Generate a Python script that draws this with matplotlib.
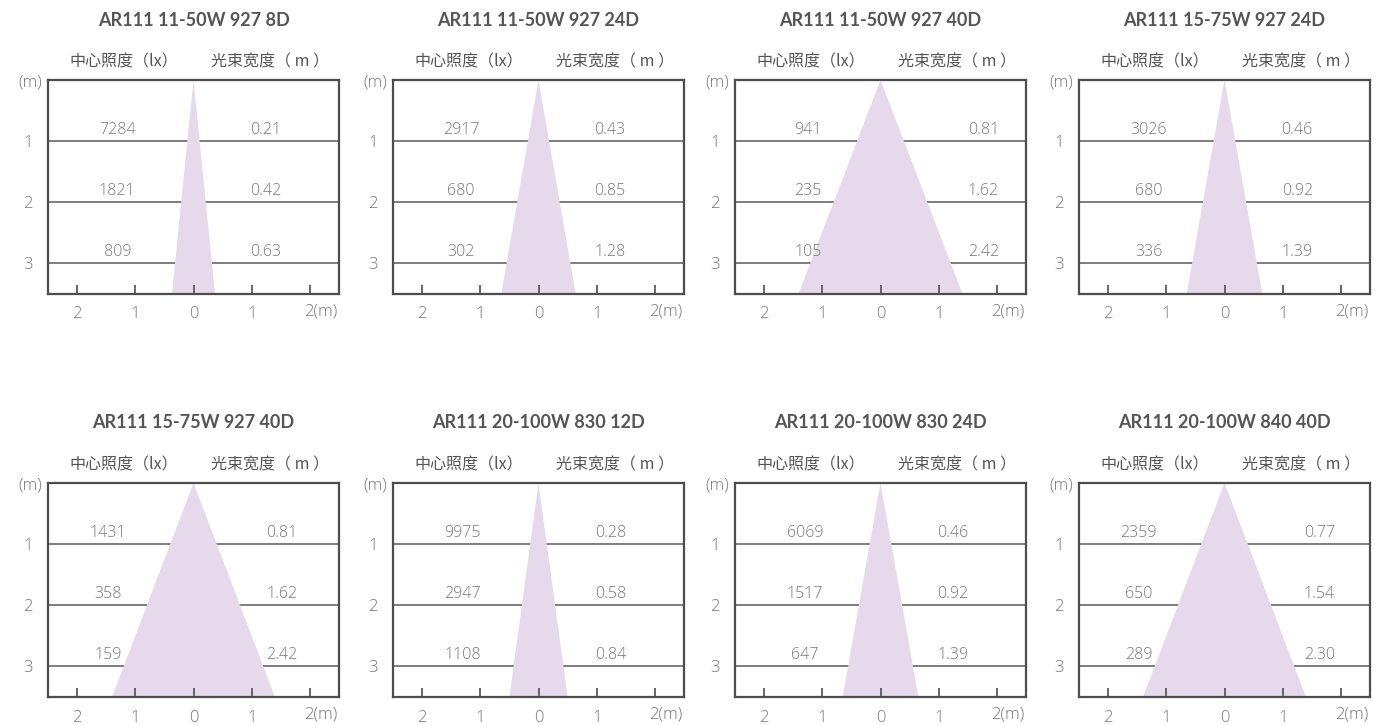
import matplotlib
matplotlib.use("Agg")
import matplotlib.pyplot as plt
from matplotlib.patches import Polygon

# data
titles = [
    "AR111 11-50W 927 8D", "AR111 11-50W 927 24D", "AR111 11-50W 927 40D", "AR111 15-75W 927 24D",
    "AR111 15-75W 927 40D", "AR111 20-100W 830 12D", "AR111 20-100W 830 24D", "AR111 20-100W 840 40D",
]
distances = [1, 2, 3]
center_lux = [
    [7284, 1821, 809], [2917, 680, 302], [941, 235, 105], [3026, 680, 336],
    [1431, 358, 159], [9975, 2947, 1108], [6069, 1517, 647], [2359, 650, 289],
]
beam_width = [
    [0.21, 0.42, 0.63], [0.43, 0.85, 1.28], [0.81, 1.62, 2.42], [0.46, 0.92, 1.39],
    [0.81, 1.62, 2.42], [0.28, 0.58, 0.84], [0.46, 0.92, 1.39], [0.77, 1.54, 2.30],
]
# half width of the drawn cone at the bottom of the box (3.5 m)
cone_half = [0.37, 0.64, 1.41, 0.65, 1.40, 0.50, 0.65, 1.40]
x_ticks = [-2, -1, 0, 1, 2]
x_ticklabels = ["2", "1", "0", "1", ""]
y_ticks = [1, 2, 3]

# layout (pixels in the 1377x725 picture)
W, H = 1377, 725
col_left = [48, 393, 735, 1079]
row_top = [80, 483]
box_w, box_h = 291, 214
lux_x = [-1.31, -1.33, -1.25, -1.30, -1.47, -1.30, -1.30, -1.48]
width_x = [1.24, 1.23, 1.77, 1.25, 1.52, 1.24, 1.24, 1.63]

EDGE = "#4d4d4d"
LINE = "#5a5a5a"
TXT = "#777777"
FILL = "#e6d9ec"
NUM_FONT = ["Open Sans", "DejaVu Sans"]
TITLE_FONT = ["Lato", "DejaVu Sans"]
CJK_FONT = ["Noto Sans CJK SC", "DejaVu Sans"]

fig = plt.figure(figsize=(W / 100, H / 100), dpi=100)

for i, title in enumerate(titles):
    r, c = divmod(i, 4)
    left = col_left[c] / W
    bottom = 1 - (row_top[r] + box_h) / H
    ax = fig.add_axes([left, bottom, box_w / W, box_h / H])
    ax.set_xlim(-2.5, 2.5)
    ax.set_ylim(3.5, 0)

    # distance lines
    for d in distances:
        ax.axhline(d, color=LINE, lw=1.1, zorder=1)

    # beam cone
    h = cone_half[i]
    ax.add_patch(Polygon([(0, 0), (-h, 3.5), (h, 3.5)], closed=True,
                         facecolor=FILL, edgecolor="none", zorder=2))

    for d, lx, bw in zip(distances, center_lux[i], beam_width[i]):
        ax.text(lux_x[i], d - 0.05, str(lx), ha="center", va="bottom",
                fontsize=11.5, color=TXT, family=NUM_FONT, fontweight=300, zorder=4)
        ax.text(width_x[i], d - 0.05, f"{bw:.2f}", ha="center", va="bottom",
                fontsize=11.5, color=TXT, family=NUM_FONT, fontweight=300, zorder=4)

    # bottom ticks inside the box
    for t in x_ticks:
        ax.plot([t, t], [3.5, 3.36], color=LINE, lw=1.3, zorder=3, solid_capstyle="butt")
    ax.set_xticks(x_ticks)
    ax.set_xticklabels(x_ticklabels, fontsize=12, color=TXT, family=NUM_FONT, fontweight=300)
    ax.tick_params(axis="x", length=0, pad=9)
    ax.text(1.9, 3.5 + 0.16, "2(m)", ha="left", va="top", fontsize=12, color=TXT,
            family=NUM_FONT, fontweight=300)

    ax.set_yticks(y_ticks)
    ax.set_yticklabels([str(d) for d in y_ticks], fontsize=12, color=TXT, family=NUM_FONT,
                       fontweight=300)
    ax.tick_params(axis="y", length=0, pad=11)
    ax.text(-2.6, 0.04, "(m)", ha="right", va="center", fontsize=12, color=TXT,
            family=NUM_FONT, fontweight=300)

    for s in ax.spines.values():
        s.set_color(EDGE)
        s.set_linewidth(1.6)
        s.set_zorder(5)

    # headers
    ax.text(-1.19, -0.16, "中心照度（lx）", ha="center", va="bottom", fontsize=11.5,
            color="#555555", family=CJK_FONT)
    ax.text(1.31, -0.16, "光束宽度（ m ）", ha="center", va="bottom", fontsize=11.5,
            color="#555555", family=CJK_FONT)

    # title
    ty = 1 - (row_top[r] - 60) / H
    fig.text((col_left[c] + box_w / 2) / W, ty, title, ha="center", va="center",
             fontsize=13, fontweight="bold", color="#555555", family=TITLE_FONT)

fig.savefig("out.png", dpi=100)
